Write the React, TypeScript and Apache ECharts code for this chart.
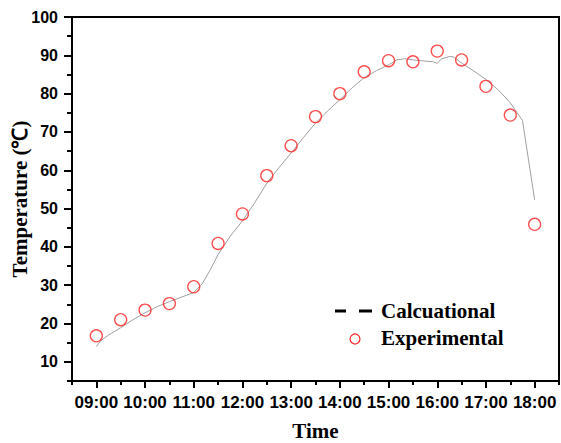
import React, { useEffect, useRef } from "react";
import * as echarts from "echarts";

// Experimental measurements (hour, °C)
const expHours = [9, 9.5, 10, 10.5, 11, 11.5, 12, 12.5, 13, 13.5, 14, 14.5, 15, 15.5, 16, 16.5, 17, 17.5, 18];
const expTemps = [16.8, 21.0, 23.5, 25.2, 29.6, 40.9, 48.6, 58.6, 66.4, 74.0, 80.0, 85.7, 88.6, 88.3, 91.1, 88.8, 81.9, 74.4, 45.9];

// Calculational curve (hour, °C)
const calcHours = [9.0, 9.083, 9.25, 9.5, 9.75, 10.0, 10.25, 10.5, 10.75, 11.0, 11.17, 11.33, 11.5, 11.75, 12.0, 12.25, 12.5, 12.75, 13.0, 13.25, 13.5, 13.75, 14.0, 14.25, 14.5, 14.75, 15.0, 15.17, 15.33, 15.5, 15.75, 15.92, 16.0, 16.08, 16.25, 16.33, 16.5, 16.58, 16.75, 17.0, 17.25, 17.5, 17.75, 18.0];
const calcTemps = [14.0, 15.4, 17.0, 18.9, 21.0, 22.8, 24.4, 25.7, 26.9, 28.1, 30.3, 33.8, 38.0, 42.8, 46.8, 51.5, 56.6, 60.7, 64.5, 68.5, 72.3, 75.5, 78.4, 81.5, 84.2, 86.0, 87.5, 88.8, 89.1, 88.8, 88.5, 88.3, 87.9, 89.0, 89.7, 89.6, 88.0, 87.3, 85.9, 83.7, 81.0, 77.6, 73.0, 52.3];

const xMajor = [9, 10, 11, 12, 13, 14, 15, 16, 17, 18];
const xMinor = [8.5, 9.5, 10.5, 11.5, 12.5, 13.5, 14.5, 15.5, 16.5, 17.5, 18.5];
const yMajor = [10, 20, 30, 40, 50, 60, 70, 80, 90, 100];
const yMinor = [5, 15, 25, 35, 45, 55, 65, 75, 85, 95];

const legendNames = ["Calcuational", "Experimental"];

const fmtHour = (v: number) => (v < 10 ? "0" : "") + Math.round(v) + ":00";

const SERIF = "Liberation Serif";
const SANS = "Liberation Sans";

export default function App() {
  const ref = useRef<HTMLDivElement>(null);
  useEffect(() => {
    if (!ref.current) return;
    const chart = echarts.init(ref.current, undefined, { renderer: "svg" });
    const nameFont = {
      fontFamily: SERIF,
      fontWeight: "bold" as const,
      fontSize: 21,
      color: "#000",
    };
    const baseX = {
      type: "value" as const,
      min: 8.5,
      max: 18.5,
      position: "bottom" as const,
      splitLine: { show: false },
    };
    const baseY = {
      type: "value" as const,
      min: 5,
      max: 100,
      position: "left" as const,
      splitLine: { show: false },
    };
    const legendText = (text: string, y: number) => ({
      type: "text",
      x: 381,
      y,
      style: {
        text,
        fill: "#000",
        fontFamily: SERIF,
        fontWeight: "bold",
        fontSize: 21,
        verticalAlign: "middle",
        align: "left",
      },
    });
    chart.setOption({
      animation: false,
      backgroundColor: "#fff",
      grid: {
        left: 72,
        right: 2,
        top: 17,
        bottom: 62,
        containLabel: false,
        outerBoundsMode: "none",
        show: true,
        borderColor: "#000",
        borderWidth: 2,
        backgroundColor: "transparent",
      },
      xAxis: [
        {
          ...baseX,
          name: "Time",
          nameLocation: "middle",
          nameGap: 39,
          nameMoveOverlap: false,
          nameTextStyle: nameFont,
          axisLine: { show: true, lineStyle: { color: "#000", width: 2 } },
          axisTick: { show: true, inside: false, length: 7, lineStyle: { color: "#000", width: 2 }, customValues: xMajor },
          axisLabel: {
            show: true,
            margin: 13,
            fontFamily: SANS,
            fontWeight: "bold",
            fontSize: 17,
            color: "#000",
            hideOverlap: false,
            customValues: xMajor,
            formatter: (v: number) => fmtHour(v),
          },
        },
        {
          ...baseX,
          axisLine: { show: false },
          axisTick: { show: true, inside: false, length: 4, lineStyle: { color: "#000", width: 2 }, customValues: xMinor },
          axisLabel: { show: false },
        },
      ],
      yAxis: [
        {
          ...baseY,
          name: "Temperature (℃)",
          nameLocation: "middle",
          nameGap: 42,
          nameMoveOverlap: false,
          nameRotate: 90,
          nameTextStyle: nameFont,
          axisLine: { show: true, lineStyle: { color: "#000", width: 2 } },
          axisTick: { show: true, inside: false, length: 8, lineStyle: { color: "#000", width: 2 }, customValues: yMajor },
          axisLabel: {
            show: true,
            margin: 14,
            fontFamily: SANS,
            fontWeight: "bold",
            fontSize: 16,
            color: "#000",
            customValues: yMajor,
          },
        },
        {
          ...baseY,
          axisLine: { show: false },
          axisTick: { show: true, inside: false, length: 5, lineStyle: { color: "#000", width: 2 }, customValues: yMinor },
          axisLabel: { show: false },
        },
      ],
      series: [
        {
          name: legendNames[0],
          type: "line",
          xAxisIndex: 0,
          yAxisIndex: 0,
          data: calcHours.map((h, i) => [h, calcTemps[i]]),
          showSymbol: false,
          symbol: "none",
          smooth: false,
          lineStyle: { color: "#a0a0a0", width: 1 },
          z: 2,
        },
        {
          name: legendNames[1],
          type: "scatter",
          xAxisIndex: 0,
          yAxisIndex: 0,
          data: expHours.map((h, i) => [h, expTemps[i]]),
          symbol: "circle",
          symbolSize: 12,
          itemStyle: { color: "rgba(255,255,255,0)", borderColor: "#ff2020", borderWidth: 1.3 },
          z: 3,
        },
      ],
      graphic: [
        { type: "line", shape: { x1: 335, y1: 311, x2: 346, y2: 311 }, style: { stroke: "#000", lineWidth: 3 } },
        { type: "line", shape: { x1: 359, y1: 311, x2: 372, y2: 311 }, style: { stroke: "#000", lineWidth: 3 } },
        legendText(legendNames[0], 311),
        { type: "circle", shape: { cx: 355, cy: 339, r: 5 }, style: { fill: "none", stroke: "#ff2020", lineWidth: 1.2 } },
        legendText(legendNames[1], 338),
      ],
    });
    return () => chart.dispose();
  }, []);
  return <div ref={ref} style={{ position: "fixed", left: 0, top: 0, width: 561, height: 443 }} />;
}
